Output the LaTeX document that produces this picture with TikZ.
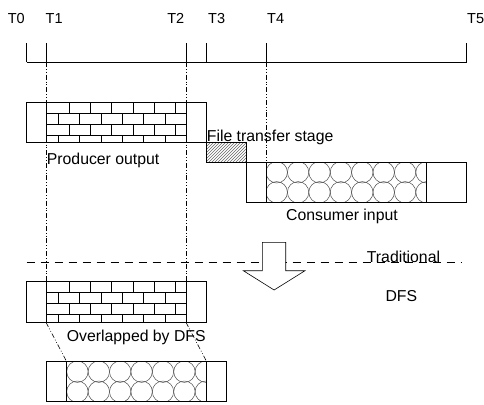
\documentclass[tikz,border=0pt]{standalone}
\usepackage{fontspec}
\setmainfont{Liberation Sans}
\usetikzlibrary{patterns}
\tikzset{
  outer/.style={draw, line width=0.6pt},
  region/.style={draw, line width=1pt},
  brick/.style={line width=0.6pt},
  bubble/.style={line width=0.5pt, draw=black!70},
  ddot/.style={line width=0.6pt, dash pattern=on 5pt off 2pt on 0.8pt off 2pt on 0.8pt off 2pt},
  lbl/.style={inner sep=0pt, font=\fontsize{15.8}{18}\selectfont},
  tlbl/.style={inner sep=0pt, font=\fontsize{14.5}{17}\selectfont},
  tl/.style={line width=0.6pt},
}
\newcommand\brickwall[1]{%
  \begin{scope}
    \clip (46,#1) rectangle (186,{#1+39.6});
    \foreach \dy in {11,22,33} \draw[brick] (46,{#1+\dy}) -- (186,{#1+\dy});
    \foreach \k in {0,...,5} {
      \draw[brick] ({69+21.33*\k},#1) -- ++(0,11);
      \draw[brick] ({69+21.33*\k},{#1+22}) -- ++(0,11);
    }
    \foreach \k in {0,...,6} {
      \draw[brick] ({58.3+21.33*\k},{#1+11}) -- ++(0,11);
      \draw[brick] ({58.3+21.33*\k},{#1+33}) -- ++(0,11);
    }
  \end{scope}}
\newcommand\bubblewall[4]{%
  \begin{scope}
    \clip (#1,#2) rectangle (#3,#4);
    \foreach \k in {0,...,7} {
      \draw[bubble] ({#1+10.7+21.4*\k},{#2+10}) circle[radius=10.7pt];
      \draw[bubble] ({#1+10.7+21.4*\k},{#2+30}) circle[radius=10.7pt];
    }
  \end{scope}}
\begin{document}
\begin{tikzpicture}[x=1pt,y=-1pt]
\useasboundingbox (0,0) rectangle (484,404);
% timeline labels
\node[tlbl, anchor=base east] (t0) at (25,23.3) {T0};
\node[tlbl, anchor=base west] (t1) at (45.5,23.3) {T1};
\node[tlbl, anchor=base east] (t2) at (184.5,23.3) {T2};
\node[tlbl, anchor=base west] (t3) at (208,23.3) {T3};
\node[tlbl, anchor=base west] (t4) at (267,23.3) {T4};
\node[tlbl, anchor=base west] (t5) at (467,23.3) {T5};
% timeline
\coordinate (a0) at (26.7,62); \coordinate (b0) at (26.7,42.7);
\coordinate (a1) at (46,62);   \coordinate (b1) at (46,42.7);
\coordinate (a2) at (186,62);  \coordinate (b2) at (186,42.7);
\coordinate (a3) at (206.7,62);\coordinate (b3) at (206.7,42.7);
\coordinate (a4) at (266,62);  \coordinate (b4) at (266,42.7);
\coordinate (a5) at (466.7,62);\coordinate (b5) at (466.7,42.7);
\draw[tl] (a0) -- (a5);
\foreach \i in {0,...,5} \draw[tl] (a\i) -- (b\i);
% guide lines
\coordinate (g1) at (46,281.7);
\coordinate (g2) at (186,281.7);
\coordinate (g4) at (266,162.3);
\draw[ddot] (a1) -- (g1);
\draw[ddot] (a2) -- (g2);
\draw[ddot] (a4) -- (g4);
% producer (top)
\brickwall{102.7}
\draw[outer] (26.7,102.7) rectangle (206.7,142.3);
\draw[region] (46,102.7) rectangle (186,142.3);
\node[lbl, anchor=base west] (prod) at (46.7,164) {Producer output};
% file transfer stage
\draw[outer, pattern=north east lines, pattern color=black!60] (206.7,142.3) rectangle (246,162.3);
\node[lbl, anchor=base west] (fts) at (206.7,141.7) {File transfer stage};
% consumer (top)
\bubblewall{266}{162.3}{426}{202.3}
\draw[outer] (246,162.3) rectangle (466,202.3);
\draw[region] (266,162.3) rectangle (426,202.3);
\node[lbl, anchor=base] (cons) at (342,220) {Consumer input};
% divider
\coordinate (d0) at (26.7,262.3);
\coordinate (d1) at (461.7,262.3);
\draw[line width=0.6pt, dash pattern=on 8pt off 6pt] (d0) -- (d1);
\node[lbl, anchor=base west] (trad) at (366.7,262.3) {Traditional};
\node[lbl, anchor=base] (dfs) at (401.3,301) {DFS};
% arrow
\draw[line width=0.6pt, fill=white] (262.3,242.3) -- (285.7,242.3) -- (285.7,270.7) -- (305,270.7) -- (274.1,290) -- (243.3,270.7) -- (262.3,270.7) -- cycle;
% producer (bottom)
\brickwall{281.7}
\draw[outer] (26.7,281.7) rectangle (206.7,322.3);
\draw[region] (46,281.7) rectangle (186,322.3);
\node[lbl, anchor=base west] (ovl) at (66.7,341.7) {Overlapped by DFS};
% consumer (bottom)
\bubblewall{66.7}{361.7}{206.7}{401.7}
\draw[outer] (46.7,361.7) rectangle (226.7,401.7);
\draw[region] (66.7,361.7) rectangle (206.7,401.7);
% slanted guides
\coordinate (p1) at (46,322.3);  \coordinate (q1) at (66.7,361.7);
\coordinate (p2) at (186,322.3); \coordinate (q2) at (206.7,361.7);
\draw[ddot] (p1) -- (q1);
\draw[ddot] (p2) -- (q2);
\end{tikzpicture}
\end{document}
